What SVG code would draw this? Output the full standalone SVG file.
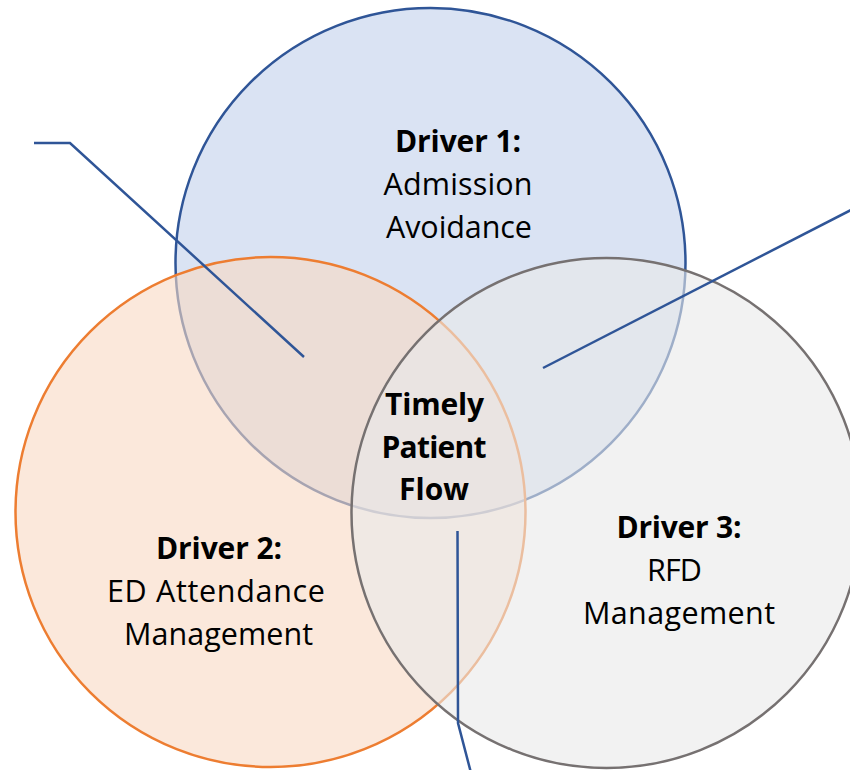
<svg xmlns="http://www.w3.org/2000/svg" width="850" height="770" viewBox="0 0 850 770">
  <style>
    .ring { stroke-width: 2.5; }
    .label { font-family: "Open Sans", Lato, "Liberation Sans", sans-serif; font-size: 30.5px; fill: #000; text-anchor: middle; }
    .head { font-weight: bold; font-size: 30px; }
    .link { fill: none; stroke: #2F5597; stroke-width: 2.5; stroke-linejoin: miter; }
  </style>
  <rect width="850" height="770" fill="#FFFFFF"/>

  <!-- Driver 1 -->
  <g id="driver1">
    <circle class="ring" cx="430.5" cy="263" r="255" fill="#DAE3F3" stroke="#2F5597"/>
    <text class="label head" x="458" y="152" textLength="126">Driver 1:</text>
    <text class="label" x="458" y="195" textLength="149">Admission</text>
    <text class="label" x="459" y="238" textLength="146">Avoidance</text>
  </g>

  <!-- Driver 2 -->
  <g id="driver2">
    <circle class="ring" cx="270.5" cy="512" r="255" fill="#F8D9C3" fill-opacity="0.6" stroke="#ED7D31"/>
    <text class="label head" x="219" y="559" textLength="126">Driver 2:</text>
    <text class="label" x="216" y="602" textLength="218">ED Attendance</text>
    <text class="label" x="218.5" y="645" textLength="189">Management</text>
  </g>

  <!-- Driver 3 -->
  <g id="driver3">
    <circle class="ring" cx="606.5" cy="513" r="255" fill="#EAEAEA" fill-opacity="0.6" stroke="#767171"/>
    <text class="label head" x="679" y="538" textLength="125">Driver 3:</text>
    <text class="label" x="674.5" y="581" textLength="55">RFD</text>
    <text class="label" x="679" y="624" textLength="192">Management</text>
  </g>

  <!-- Connectors -->
  <g id="connectors">
    <polyline class="link" points="34,143 70,143 304,357"/>
    <polyline class="link" points="851,210 543,368"/>
    <polyline class="link" points="457.5,531 458,723 470.5,771"/>
  </g>

  <!-- Shared centre -->
  <g id="core">
    <text class="label head" x="434.5" y="415" textLength="99">Timely</text>
    <text class="label head" x="434" y="458" textLength="105">Patient</text>
    <text class="label head" x="434" y="500" textLength="70">Flow</text>
  </g>
</svg>
